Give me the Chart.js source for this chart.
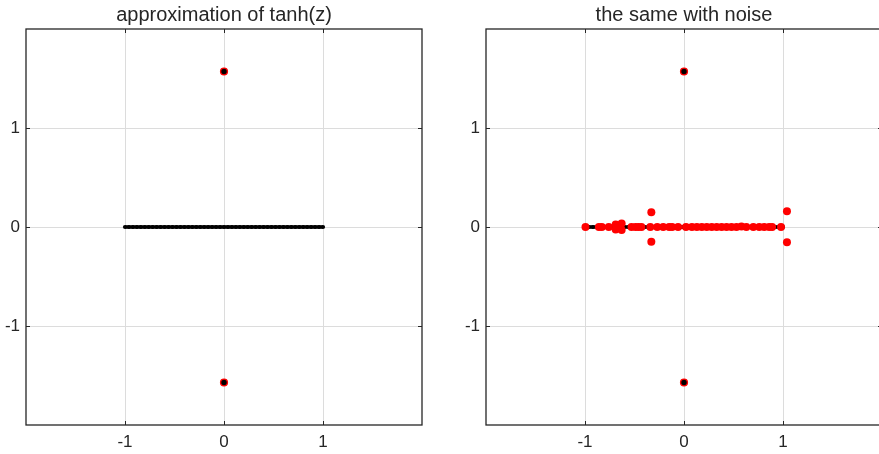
<!DOCTYPE html>
<html>
<head>
<meta charset="utf-8">
<script src="https://cdn.jsdelivr.net/npm/chart.js@4/dist/chart.umd.min.js"></script>
<style>
  html, body { margin: 0; padding: 0; background: #fff; overflow: hidden; width: 879px; height: 454px; }
  .painel { position: absolute; top: 0; width: 440px; height: 454px; }
  #painelEsq { left: 0; }
  #painelDir { left: 460px; }
</style>
</head>
<body>
<div class="painel" id="painelEsq"><canvas id="graficoTanh"></canvas></div>
<div class="painel" id="painelDir"><canvas id="graficoRuido"></canvas></div>
<script>
// sample points on [-1,1] (real axis)
var amostrasRe = [-1, -0.96, -0.92, -0.88, -0.84, -0.8, -0.76, -0.72, -0.68, -0.64,
  -0.6, -0.56, -0.52, -0.48, -0.44, -0.4, -0.36, -0.32, -0.28, -0.24,
  -0.2, -0.16, -0.12, -0.08, -0.04, 0, 0.04, 0.08, 0.12, 0.16,
  0.2, 0.24, 0.28, 0.32, 0.36, 0.4, 0.44, 0.48, 0.52, 0.56,
  0.6, 0.64, 0.68, 0.72, 0.76, 0.8, 0.84, 0.88, 0.92, 0.96, 1];

// poles at +/- i*pi/2
var polosRe = [0, 0];
var polosIm = [1.5708, -1.5708];

// spurious poles of the noisy approximation
var ruidoRe = [-0.995, -0.86, -0.83, -0.76, -0.69, -0.66, -0.63, -0.69, -0.63, -0.66,
  -0.53, -0.49, -0.46, -0.43, -0.34, -0.33, -0.33, -0.27, -0.21, -0.15, -0.12, -0.06,
  0.02, 0.08, 0.13, 0.18, 0.23, 0.28, 0.33, 0.38, 0.43, 0.48, 0.53, 0.58, 0.63,
  0.7, 0.76, 0.81, 0.86, 0.89, 0.98, 1.04, 1.04];
var ruidoIm = [0, 0, 0, 0, 0.025, 0, 0.035, -0.025, -0.03, -0.01,
  0, 0, 0, 0, 0, 0.15, -0.15, 0, 0, 0, 0, 0,
  0, 0, 0, 0, 0, 0, 0, 0, 0, 0, 0, 0.005, 0,
  0, 0, 0, 0, 0, 0, 0.16, -0.155];

var marcas = [-1, 0, 1];
var titulos = ['approximation of tanh(z)', 'the same with noise'];

var corTexto = '#262626';
var fonte = '"Liberation Sans", Arial, sans-serif';

function pares(re, im) {
  return re.map(function(x, i) {
    return { x: x, y: im ? im[i] : 0 };
  });
}

// box around the axes, with small inward ticks, plus the title
var moldura = {
  id: 'moldura',
  afterDraw: function(chart, args, opts) {
    var ctx = chart.ctx;
    var a = chart.chartArea;
    var sx = chart.scales.x, sy = chart.scales.y;
    ctx.save();
    ctx.strokeStyle = corTexto;
    ctx.lineWidth = 1.3;
    ctx.strokeRect(a.left, a.top, a.right - a.left, a.bottom - a.top);
    ctx.lineWidth = 1;
    marcas.forEach(function(v) {
      var px = Math.round(sx.getPixelForValue(v)) + 0.5;
      var py = Math.round(sy.getPixelForValue(v)) + 0.5;
      ctx.beginPath();
      ctx.moveTo(px, a.bottom); ctx.lineTo(px, a.bottom - 4);
      ctx.moveTo(px, a.top); ctx.lineTo(px, a.top + 4);
      ctx.moveTo(a.left, py); ctx.lineTo(a.left + 4, py);
      ctx.moveTo(a.right, py); ctx.lineTo(a.right - 4, py);
      ctx.stroke();
    });
    ctx.fillStyle = corTexto;
    ctx.font = '20px ' + fonte;
    ctx.textAlign = 'center';
    ctx.textBaseline = 'middle';
    ctx.fillText(opts.texto, (a.left + a.right) / 2, 15);
    ctx.restore();
  }
};

function eixo(pos) {
  return {
    type: 'linear',
    position: pos,
    min: -2,
    max: 2,
    afterBuildTicks: function(scale) {
      scale.ticks = marcas.map(function(v) { return { value: v }; });
    },
    afterFit: function(scale) {
      if (pos === 'left') scale.width = 26;
      else scale.height = 29;
    },
    grid: { color: '#dcdcdc', lineWidth: 1, drawTicks: false },
    border: { display: false },
    ticks: {
      color: corTexto,
      font: { family: fonte, size: 17 },
      padding: pos === 'left' ? 6 : 7,
      maxRotation: 0
    }
  };
}

function criarGrafico(idCanvas, titulo, datasets) {
  var ctx = document.getElementById(idCanvas).getContext('2d');
  return new Chart(ctx, {
    type: 'scatter',
    data: { datasets: datasets },
    options: {
      responsive: true,
      maintainAspectRatio: false,
      animation: false,
      layout: { padding: { top: 29, right: 18, left: 0, bottom: 0 } },
      plugins: {
        legend: { display: false },
        tooltip: { enabled: false },
        moldura: { texto: titulo }
      },
      scales: { x: eixo('bottom'), y: eixo('left') }
    },
    plugins: [moldura]
  });
}

function dsPolos() {
  return {
    data: pares(polosRe, polosIm),
    pointRadius: 3.4,
    pointBackgroundColor: '#000',
    pointBorderColor: '#ff0000',
    pointBorderWidth: 1.4
  };
}

function dsAmostras() {
  return {
    data: pares(amostrasRe),
    showLine: true,
    borderColor: '#000',
    borderWidth: 3.6,
    pointRadius: 2.1,
    pointBackgroundColor: '#000',
    pointBorderWidth: 0
  };
}

criarGrafico('graficoTanh', titulos[0], [
  dsPolos(),
  dsAmostras()
]);

criarGrafico('graficoRuido', titulos[1], [
  dsPolos(),
  {
    data: pares(ruidoRe, ruidoIm),
    pointRadius: 4,
    pointBackgroundColor: '#ff0000',
    pointBorderWidth: 0
  },
  dsAmostras()
]);
</script>
</body>
</html>
